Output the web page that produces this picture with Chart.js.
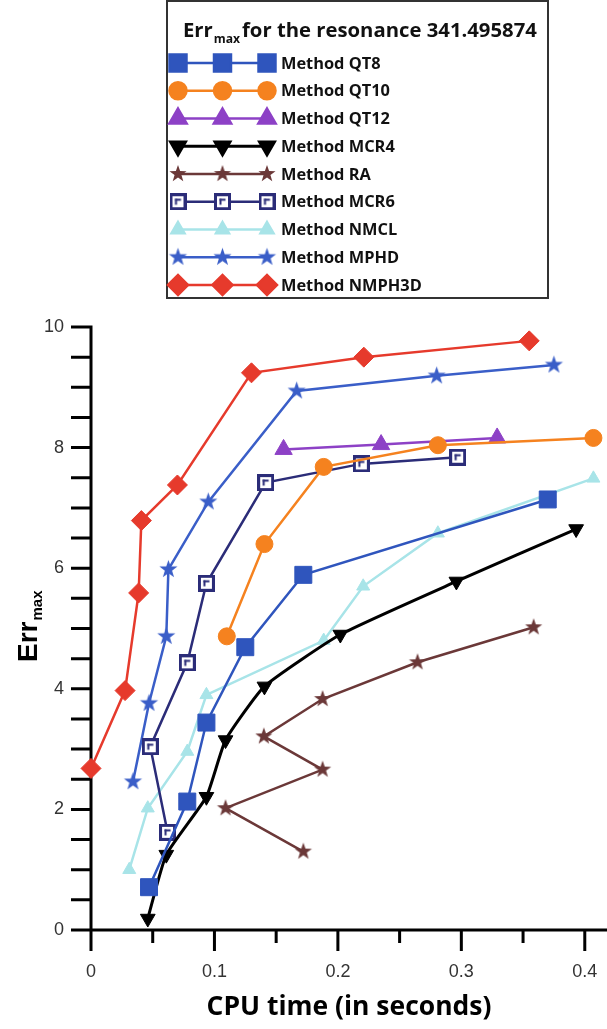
<!DOCTYPE html>
<html>
<head>
<meta charset="utf-8">
<script src="https://cdn.jsdelivr.net/npm/chart.js@4.4.1/dist/chart.umd.min.js"></script>
<style>
  html, body { margin: 0; padding: 0; background: #fff; }
  #wrap { position: relative; width: 607px; height: 1029px; }
</style>
</head>
<body>
<div id="wrap"><canvas id="chart" width="607" height="1029"></canvas></div>
<script>
// values
var legendTitle = 'for the resonance 341.495874';
var xTitle = 'CPU time (in seconds)';
var xTickLabels = [0, 0.1, 0.2, 0.3, 0.4];
var yTickLabels = [0, 2, 4, 6, 8, 10];

var qt8Time = [0.047, 0.078, 0.0935, 0.125, 0.172, 0.370];
var qt8Err  = [0.71, 2.13, 3.44, 4.69, 5.89, 7.14];

var qt10Time = [0.110, 0.1405, 0.1885, 0.281, 0.407];
var qt10Err  = [4.87, 6.40, 7.68, 8.04, 8.16];

var qt12Time = [0.156, 0.235, 0.329];
var qt12Err  = [7.97, 8.05, 8.16];

var mcr4Time = [0.046, 0.061, 0.0935, 0.109, 0.1405, 0.202, 0.296, 0.393];
var mcr4Err  = [0.19, 1.25, 2.21, 3.15, 4.04, 4.90, 5.78, 6.65];

var raTime = [0.172, 0.109, 0.1876, 0.140, 0.1876, 0.2645, 0.3586];
var raErr  = [1.30, 2.02, 2.66, 3.21, 3.83, 4.44, 5.02];

var mcr6Time = [0.062, 0.048, 0.078, 0.0935, 0.1415, 0.219, 0.297];
var mcr6Err  = [1.62, 3.04, 4.43, 5.75, 7.42, 7.73, 7.84];

var nmclTime = [0.031, 0.046, 0.078, 0.0935, 0.1885, 0.2205, 0.281, 0.407];
var nmclErr  = [1.00, 2.02, 2.96, 3.90, 4.80, 5.70, 6.58, 7.49];

var mphdTime = [0.034, 0.047, 0.061, 0.0627, 0.095, 0.1666, 0.280, 0.375];
var mphdErr  = [2.46, 3.76, 4.87, 5.98, 7.10, 8.94, 9.19, 9.37];

var nmph3dTime = [0, 0.0276, 0.0386, 0.0408, 0.070, 0.130, 0.221, 0.355];
var nmph3dErr  = [2.68, 3.97, 5.59, 6.79, 7.38, 9.24, 9.50, 9.77];

function pts(xs, ys) {
  return xs.map(function(x, i) { return {x: x, y: ys[i]}; });
}

function starMarker(color, r) {
  var c = document.createElement('canvas');
  var s = Math.ceil(r * 2 + 2);
  c.width = s; c.height = s;
  var g = c.getContext('2d');
  g.fillStyle = color;
  g.beginPath();
  for (var i = 0; i < 10; i++) {
    var rr = i % 2 ? r * 0.4 : r;
    var a = -Math.PI / 2 + i * Math.PI / 5;
    g.lineTo(s / 2 + rr * Math.cos(a), s / 2 + rr * Math.sin(a));
  }
  g.closePath();
  g.fill();
  return c;
}

function openSquareMarker(color, side) {
  var c = document.createElement('canvas');
  c.width = side; c.height = side;
  var g = c.getContext('2d');
  g.fillStyle = color;
  g.fillRect(0, 0, side, side);
  g.fillStyle = '#fff';
  g.fillRect(3, 3, side - 6, side - 6);
  g.fillStyle = color;
  g.fillRect(side / 2 - 3, side / 2 - 3, 2, 6);
  g.fillRect(side / 2 - 3, side / 2 - 3, 6, 2);
  return c;
}

function fitSize(text, font, width) {
  var g = document.createElement('canvas').getContext('2d');
  g.font = 'bold 100px ' + font;
  return 100 * width / g.measureText(text).width;
}

var sansBold = '"Open Sans", sans-serif';
var xTitleSize = fitSize(xTitle, sansBold, 285);
var legendSize = fitSize('Method NMPH3D', sansBold, 141);
var legendTitleSize = fitSize(legendTitle, sansBold, 295);

var datasets = [
  {label: 'Method QT8', data: pts(qt8Time, qt8Err), borderColor: '#2f55bd', backgroundColor: '#2f55bd',
   pointStyle: 'rect', pointRadius: 12, borderWidth: 2.5},
  {label: 'Method QT10', data: pts(qt10Time, qt10Err), borderColor: '#f5821f', backgroundColor: '#f5821f',
   pointStyle: 'circle', pointRadius: 8.5, borderWidth: 2.5},
  {label: 'Method QT12', data: pts(qt12Time, qt12Err), borderColor: '#8d41c6', backgroundColor: '#8d41c6',
   pointStyle: 'triangle', pointRadius: 10, borderWidth: 2.5},
  {label: 'Method MCR4', data: pts(mcr4Time, mcr4Err), borderColor: '#000', backgroundColor: '#000',
   pointStyle: 'triangle', pointRotation: 180, pointRadius: 8.5, borderWidth: 3, tension: 0.15},
  {label: 'Method RA', data: pts(raTime, raErr), borderColor: '#6b3838', backgroundColor: '#6b3838',
   pointStyle: starMarker('#6b3838', 9), borderWidth: 2.5},
  {label: 'Method MCR6', data: pts(mcr6Time, mcr6Err), borderColor: '#2b2c78', backgroundColor: '#2b2c78',
   pointStyle: openSquareMarker('#2b2c78', 17), borderWidth: 2.5},
  {label: 'Method NMCL', data: pts(nmclTime, nmclErr), borderColor: '#a8e4e8', backgroundColor: '#a8e4e8',
   pointStyle: 'triangle', pointRadius: 7.5, borderWidth: 2.5},
  {label: 'Method MPHD', data: pts(mphdTime, mphdErr), borderColor: '#3a5ec8', backgroundColor: '#3a5ec8',
   pointStyle: starMarker('#3a5ec8', 9.5), borderWidth: 2.5},
  {label: 'Method NMPH3D', data: pts(nmph3dTime, nmph3dErr), borderColor: '#e63a2c', backgroundColor: '#e63a2c',
   pointStyle: 'rectRot', pointRadius: 10, borderWidth: 2.5}
];
datasets.forEach(function(d) {
  d.showLine = true;
  d.clip = false;
  d.pointBorderWidth = 1;
  d.pointBackgroundColor = d.backgroundColor;
  d.pointBorderColor = d.borderColor;
});

function drawMarker(ctx, d, x, y) {
  ctx.fillStyle = d.pointBackgroundColor;
  ctx.strokeStyle = d.pointBorderColor;
  Chart.helpers.drawPoint(ctx, {
    pointStyle: d.pointStyle,
    rotation: d.pointRotation || 0,
    radius: d.pointRadius || 8,
    borderWidth: 1
  }, x, y);
}

var decor = {
  id: 'decor',
  beforeDatasetsDraw: function(chart) {
    var ctx = chart.ctx, xs = chart.scales.x, ys = chart.scales.y;
    var x0 = xs.getPixelForValue(0), y0 = ys.getPixelForValue(0);
    ctx.save();
    ctx.strokeStyle = '#000';
    ctx.lineWidth = 3;
    ctx.beginPath();
    ctx.moveTo(x0, ys.getPixelForValue(10) - 1.5);
    ctx.lineTo(x0, y0);
    ctx.moveTo(x0 - 20, y0);
    ctx.lineTo(chart.width, y0);
    for (var v = 0; v <= 10.001; v += 0.5) {
      var py = ys.getPixelForValue(v);
      ctx.moveTo(x0 - 20, py);
      ctx.lineTo(x0, py);
    }
    for (var k = 0; k <= 8; k++) {
      var px = xs.getPixelForValue(k * 0.05);
      ctx.moveTo(px, y0);
      ctx.lineTo(px, y0 + (k % 2 ? 13 : 21));
    }
    ctx.stroke();

    // y axis title with subscript
    ctx.translate(37, 662);
    ctx.rotate(-Math.PI / 2);
    ctx.fillStyle = '#000';
    ctx.textBaseline = 'alphabetic';
    ctx.font = 'bold 28px "Liberation Sans", Arial, sans-serif';
    ctx.fillText('Err', 0, 0);
    var w = ctx.measureText('Err').width;
    ctx.font = 'bold 15px "Liberation Sans", Arial, sans-serif';
    ctx.fillText('max', w + 1, 5);
    ctx.restore();
  },
  afterDraw: function(chart) {
    var ctx = chart.ctx;
    ctx.save();
    // legend box
    ctx.strokeStyle = '#333';
    ctx.lineWidth = 2;
    ctx.strokeRect(167, 1, 381, 297);
    ctx.fillStyle = '#111';
    ctx.textBaseline = 'alphabetic';
    ctx.font = 'bold ' + legendTitleSize + 'px ' + sansBold;
    ctx.fillText('Err', 183, 37);
    var w = ctx.measureText('Err').width;
    ctx.font = 'bold ' + (legendTitleSize * 0.6) + 'px ' + sansBold;
    ctx.fillText('max', 183 + w + 1, 43);
    ctx.font = 'bold ' + legendTitleSize + 'px ' + sansBold;
    ctx.fillText(legendTitle, 242, 37);

    var marks = [178, 222.5, 267];
    chart.data.datasets.forEach(function(d, i) {
      var y = 63 + i * 27.75;
      ctx.strokeStyle = d.borderColor;
      ctx.lineWidth = d.borderWidth;
      ctx.beginPath();
      ctx.moveTo(marks[0], y);
      ctx.lineTo(marks[2], y);
      ctx.stroke();
      marks.forEach(function(mx) { drawMarker(ctx, d, mx, y); });
      ctx.fillStyle = '#111';
      ctx.textBaseline = 'middle';
      ctx.font = 'bold ' + legendSize + 'px ' + sansBold;
      ctx.fillText(d.label, 281, y + 1);
    });
    ctx.restore();
  }
};

new Chart(document.getElementById('chart').getContext('2d'), {
  type: 'scatter',
  data: {datasets: datasets},
  plugins: [decor],
  options: {
    responsive: false,
    animation: false,
    layout: {autoPadding: false, padding: {top: 327, left: 0, right: 0, bottom: 0}},
    plugins: {legend: {display: false}, tooltip: {enabled: false}},
    scales: {
      x: {
        type: 'linear', min: 0, max: 0.418,
        grid: {display: false, drawTicks: true, tickLength: 21},
        border: {display: false},
        afterBuildTicks: function(s) {
          var t = [];
          for (var k = 0; k <= 8; k++) t.push({value: k * 0.05});
          s.ticks = t;
        },
        ticks: {
          autoSkip: false, maxRotation: 0, padding: 10,
          color: '#333',
          font: {family: '"Liberation Sans", Arial, sans-serif', size: 18},
          callback: function(v) {
            var hit = xTickLabels.filter(function(t) { return Math.abs(t - v) < 1e-6; });
            return hit.length ? (hit[0] === 0 ? '0' : hit[0].toFixed(1)) : '';
          }
        },
        title: {
          display: true, text: xTitle, color: '#000',
          font: {family: sansBold, size: xTitleSize, weight: 'bold'},
          padding: {top: 0, bottom: 6}
        },
        afterFit: function(s) { s.height = 99; s.paddingLeft = 0; s.paddingRight = 0; }
      },
      y: {
        type: 'linear', min: 0, max: 10,
        grid: {display: false, drawTicks: true, tickLength: 20},
        border: {display: false},
        ticks: {
          stepSize: 0.5, autoSkip: false, padding: 7,
          color: '#333',
          font: {family: '"Liberation Sans", Arial, sans-serif', size: 18},
          callback: function(v) {
            return yTickLabels.indexOf(v) >= 0 ? String(v) : '';
          }
        },
        afterFit: function(s) { s.width = 91; s.paddingTop = 0; s.paddingBottom = 0; }
      }
    }
  }
});
</script>
</body>
</html>
